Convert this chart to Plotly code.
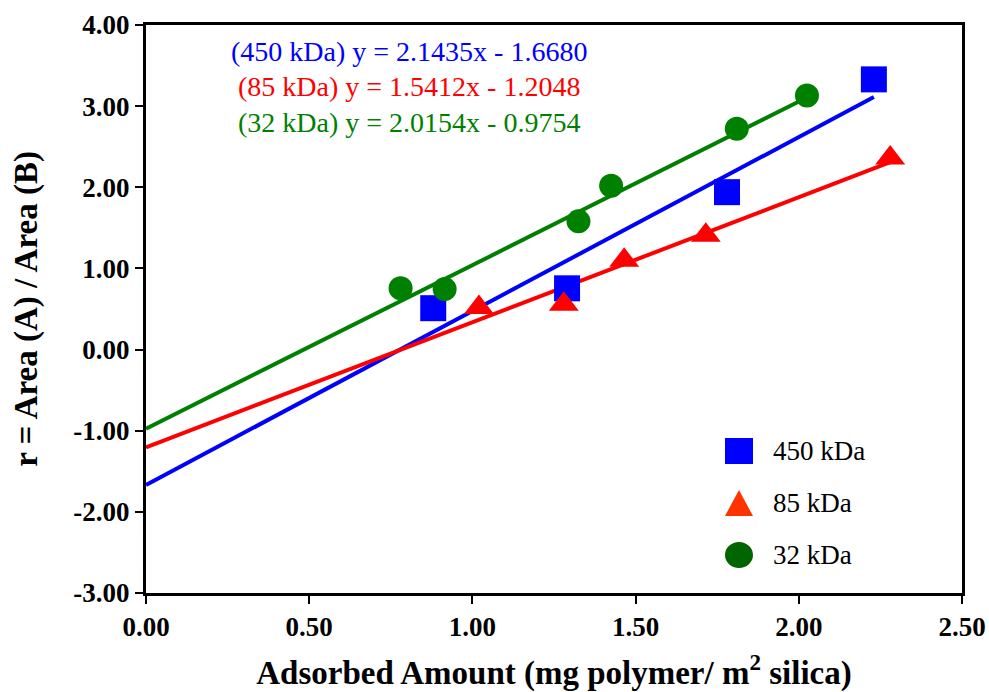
import plotly.graph_objects as go

# Adsorption series (mg polymer / m2 silica) vs peak-area ratio
x_450 = [0.88, 1.29, 1.78, 2.23]
y_450 = [0.51, 0.755, 1.94, 3.33]

x_85 = [1.02, 1.28, 1.465, 1.715, 2.28]
y_85 = [0.52, 0.56, 1.10, 1.41, 2.36]

x_32 = [0.78, 0.915, 1.325, 1.425, 1.81, 2.025]
y_32 = [0.755, 0.745, 1.58, 2.02, 2.72, 3.13]

series_names = ["450 kDa", "85 kDa", "32 kDa"]
slopes = [2.1435, 1.5412, 2.0154]
intercepts = [-1.6680, -1.2048, -0.9754]

x_ticks = [0.0, 0.5, 1.0, 1.5, 2.0, 2.5]
y_ticks = [-3, -2, -1, 0, 1, 2, 3, 4]

point_colors = ["#0000FF", "#FF0000", "#008000"]
key_colors = ["#0000FF", "#FF3300", "#006400"]
symbols = ["square", "triangle-up", "circle"]
sizes = [26, 26, 24]

SERIF = "Liberation Serif, Times New Roman, serif"

fig = go.Figure()

data = [(x_450, y_450), (x_85, y_85), (x_32, y_32)]

# Fitted lines, drawn from x = 0 to the last measured point
for (xs, ys), m, b, c in zip(data, slopes, intercepts, point_colors):
    xl = [0.0, max(xs)]
    fig.add_trace(go.Scatter(
        x=xl, y=[m * v + b for v in xl], mode="lines",
        line=dict(color=c, width=4), showlegend=False, hoverinfo="skip",
    ))

# Measured points
for (xs, ys), name, c, s, sz in zip(data, series_names, point_colors, symbols, sizes):
    fig.add_trace(go.Scatter(
        x=xs, y=ys, mode="markers", name=name,
        marker=dict(color=c, symbol=s, size=sz, line=dict(width=0)),
        showlegend=False,
    ))

# Regression equations
eq_y = [0.9525, 0.891, 0.829]
annotations = []
for name, m, b, c, yy in zip(series_names, slopes, intercepts, point_colors, eq_y):
    sign = "-" if b < 0 else "+"
    annotations.append(dict(
        xref="paper", yref="paper", x=0.322, y=yy,
        text=f"({name}) y = {m:.4f}x {sign} {abs(b):.4f}",
        showarrow=False, xanchor="center", yanchor="middle",
        font=dict(family=SERIF, size=28, color=c),
    ))

# Legend keys
key_y = [0.25, 0.1585, 0.0669]
shapes = []
kx = 0.7267
shapes.append(dict(type="rect", xref="paper", yref="paper", xsizemode="pixel", ysizemode="pixel",
                   xanchor=kx, yanchor=key_y[0], x0=-14, x1=14, y0=-13, y1=13,
                   fillcolor=key_colors[0], line=dict(width=0)))
shapes.append(dict(type="path", xref="paper", yref="paper", xsizemode="pixel", ysizemode="pixel",
                   xanchor=kx, yanchor=key_y[1], path="M -14,-13 L 14,-13 L 0,13 Z",
                   fillcolor=key_colors[1], line=dict(width=0)))
shapes.append(dict(type="circle", xref="paper", yref="paper", xsizemode="pixel", ysizemode="pixel",
                   xanchor=kx, yanchor=key_y[2], x0=-14, x1=14, y0=-13, y1=13,
                   fillcolor=key_colors[2], line=dict(width=0)))
for name, yy in zip(series_names, key_y):
    annotations.append(dict(
        xref="paper", yref="paper", x=0.766, y=yy, text=name, showarrow=False,
        xanchor="left", yanchor="middle",
        font=dict(family=SERIF, size=27, color="black"),
    ))

axis_common = dict(
    showgrid=False, zeroline=False, showline=True, linecolor="black", linewidth=3,
    mirror=True, ticks="outside", ticklen=8, tickwidth=2, tickcolor="black",
    tickfont=dict(family=SERIF, size=27, color="black", weight="bold"),
    automargin=False,
)

fig.update_layout(
    width=989, height=692,
    margin=dict(l=146, r=27, t=25, b=99),
    paper_bgcolor="white", plot_bgcolor="white",
    xaxis=dict(range=[0, 2.5], tickvals=x_ticks,
               ticktext=[f"{v:.2f}" for v in x_ticks],
               title=dict(text="Adsorbed Amount (mg polymer/ m<sup>2</sup> silica)",
                          font=dict(family=SERIF, size=33, color="black", weight="bold"),
                          standoff=22),
               **axis_common),
    yaxis=dict(range=[-3, 4], tickvals=y_ticks,
               ticktext=[f"{v:.2f}" for v in y_ticks],
               title=dict(text="r = Area (A) / Area (B)",
                          font=dict(family=SERIF, size=33, color="black", weight="bold"),
                          standoff=26),
               **axis_common),
    annotations=annotations,
    shapes=shapes,
    showlegend=False,
)

fig.write_html("out.html")
